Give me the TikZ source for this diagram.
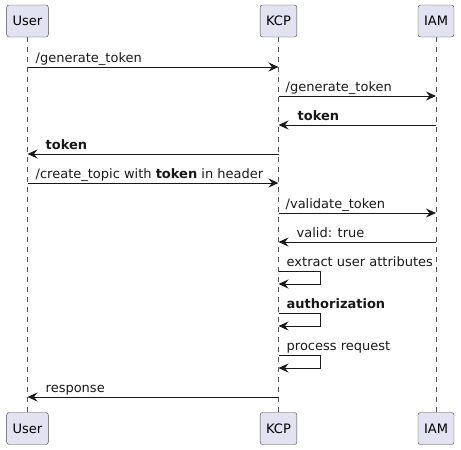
\documentclass[tikz,border=0pt]{standalone}
\usepackage{fontspec}
\setmainfont{DejaVu Sans}
\usetikzlibrary{arrows.meta,positioning,calc}
\definecolor{boxfill}{HTML}{E2E2F0}
\definecolor{ink}{HTML}{181818}

\begin{document}
\begin{tikzpicture}[x=1pt, y=-1pt,
    actor/.style={rectangle, draw=ink!80, fill=boxfill, rounded corners=2.5pt, minimum height=32pt, inner xsep=6pt, font=\fontsize{13}{15}\selectfont},
    lifeline/.style={draw=ink!75, dash pattern=on 5pt off 5pt, line width=0.5pt},
    msg/.style={draw=ink, line width=0.9pt, -{Stealth[length=10pt, width=9pt, inset=3.5pt]}},
    lbl/.style={font=\fontsize{13}{15}\selectfont, text=ink, inner sep=0pt, anchor=base west}
]
\useasboundingbox (0,0) rectangle (461,450);

% Participants
\node[actor] (user) at (27.5, 21) {User};
\node[actor] (kcp) at (278.5, 21) {KCP};
\node[actor] (iam) at (436, 21) {IAM};

\node[actor] (user2) at (27.5, 428.5) {User};
\node[actor] (kcp2) at (278.5, 428.5) {KCP};
\node[actor] (iam2) at (436, 428.5) {IAM};

% Lifelines
\draw[lifeline] (user.south) -- (user2.north);
\draw[lifeline] (kcp.south) -- (kcp2.north);
\draw[lifeline] (iam.south) -- (iam2.north);

% Token request
\draw[msg] (user |- 0,67) -- (kcp |- 0,67);
\node[lbl] (m1) at ($(user |- 0,62)+(8,0)$) {/generate\_token};

\draw[msg] (kcp |- 0,96) -- (iam |- 0,96);
\node[lbl] (m2) at ($(kcp |- 0,91)+(7,0)$) {/generate\_token};

\draw[msg] (iam |- 0,125) -- (kcp |- 0,125);
\node[lbl] (m3) at ($(kcp |- 0,120)+(19,0)$) {\bfseries token};

\draw[msg] (kcp |- 0,154) -- (user |- 0,154);
\node[lbl] (m4) at ($(user |- 0,149)+(18,0)$) {\bfseries token};

% Topic creation
\draw[msg] (user |- 0,183) -- (kcp |- 0,183);
\node[lbl] (m5) at ($(user |- 0,178)+(8,0)$) {/create\_topic with \textbf{token} in header};

\draw[msg] (kcp |- 0,213) -- (iam |- 0,213);
\node[lbl] (m6) at ($(kcp |- 0,208)+(7,0)$) {/validate\_token};

\draw[msg] (iam |- 0,242) -- (kcp |- 0,242);
\node[lbl] (m7) at ($(kcp |- 0,237)+(18,0)$) {valid: true};

% Self calls
\draw[msg] (kcp |- 0,271) -- (320,271) -- (320,284) -- (kcp |- 0,284);
\node[lbl] (m8) at ($(kcp |- 0,266)+(8,0)$) {extract user attributes};

\draw[msg] (kcp |- 0,313) -- (320,313) -- (320,326) -- (kcp |- 0,326);
\node[lbl] (m9) at ($(kcp |- 0,308)+(8,0)$) {\bfseries authorization};

\draw[msg] (kcp |- 0,355) -- (320,355) -- (320,368) -- (kcp |- 0,368);
\node[lbl] (m10) at ($(kcp |- 0,350)+(8,0)$) {process request};

% Reply
\draw[msg] (kcp |- 0,397) -- (user |- 0,397);
\node[lbl] (m11) at ($(user |- 0,392)+(18,0)$) {response};

\end{tikzpicture}
\end{document}
